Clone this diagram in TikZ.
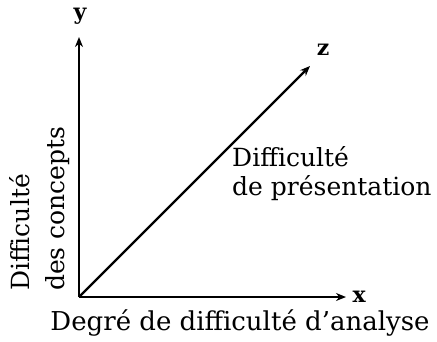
\documentclass[tikz,border=0pt]{standalone}
\usepackage{fontspec}
\setmainfont{DejaVu Serif}
\usepackage{tikz}
\usetikzlibrary{arrows.meta,positioning}

\begin{document}
\begin{tikzpicture}[x=1pt,y=-1pt,>={Stealth[length=10pt,width=8pt]},
    axis/.style={->,line width=2.3pt},
    axlabel/.style={font=\fontsize{22}{22}\selectfont\bfseries},
    label/.style={font=\fontsize{25}{29}\selectfont,inner sep=0pt}]
    \useasboundingbox (0,0) rectangle (437,341);
    \coordinate (O) at (79,297);
    \coordinate (ytip) at (79,37);
    \coordinate (xtip) at (346,297);
    \coordinate (ztip) at (310,66);
    \draw[axis] (O) -- (ytip);
    \draw[axis] (O) -- (xtip);
    \draw[axis] (O) -- (ztip);
    \node[axlabel] (y) at (80,16) {y};
    \node[axlabel,right=3pt of xtip] (x) {x};
    \node[axlabel] (z) at (323,50) {z};
    \node[label,align=left,anchor=north west] (zname) at (232,146) {Difficulté\\de présentation};
    \node[label,align=left,rotate=90,anchor=north west,font=\fontsize{25}{35}\selectfont] (yname) at (9,291) {Difficulté\\des concepts};
    \node[label,anchor=north,font=\fontsize{26}{26}\selectfont] (xname) at (240,309) {Degré de difficulté d'analyse};
\end{tikzpicture}
\end{document}
